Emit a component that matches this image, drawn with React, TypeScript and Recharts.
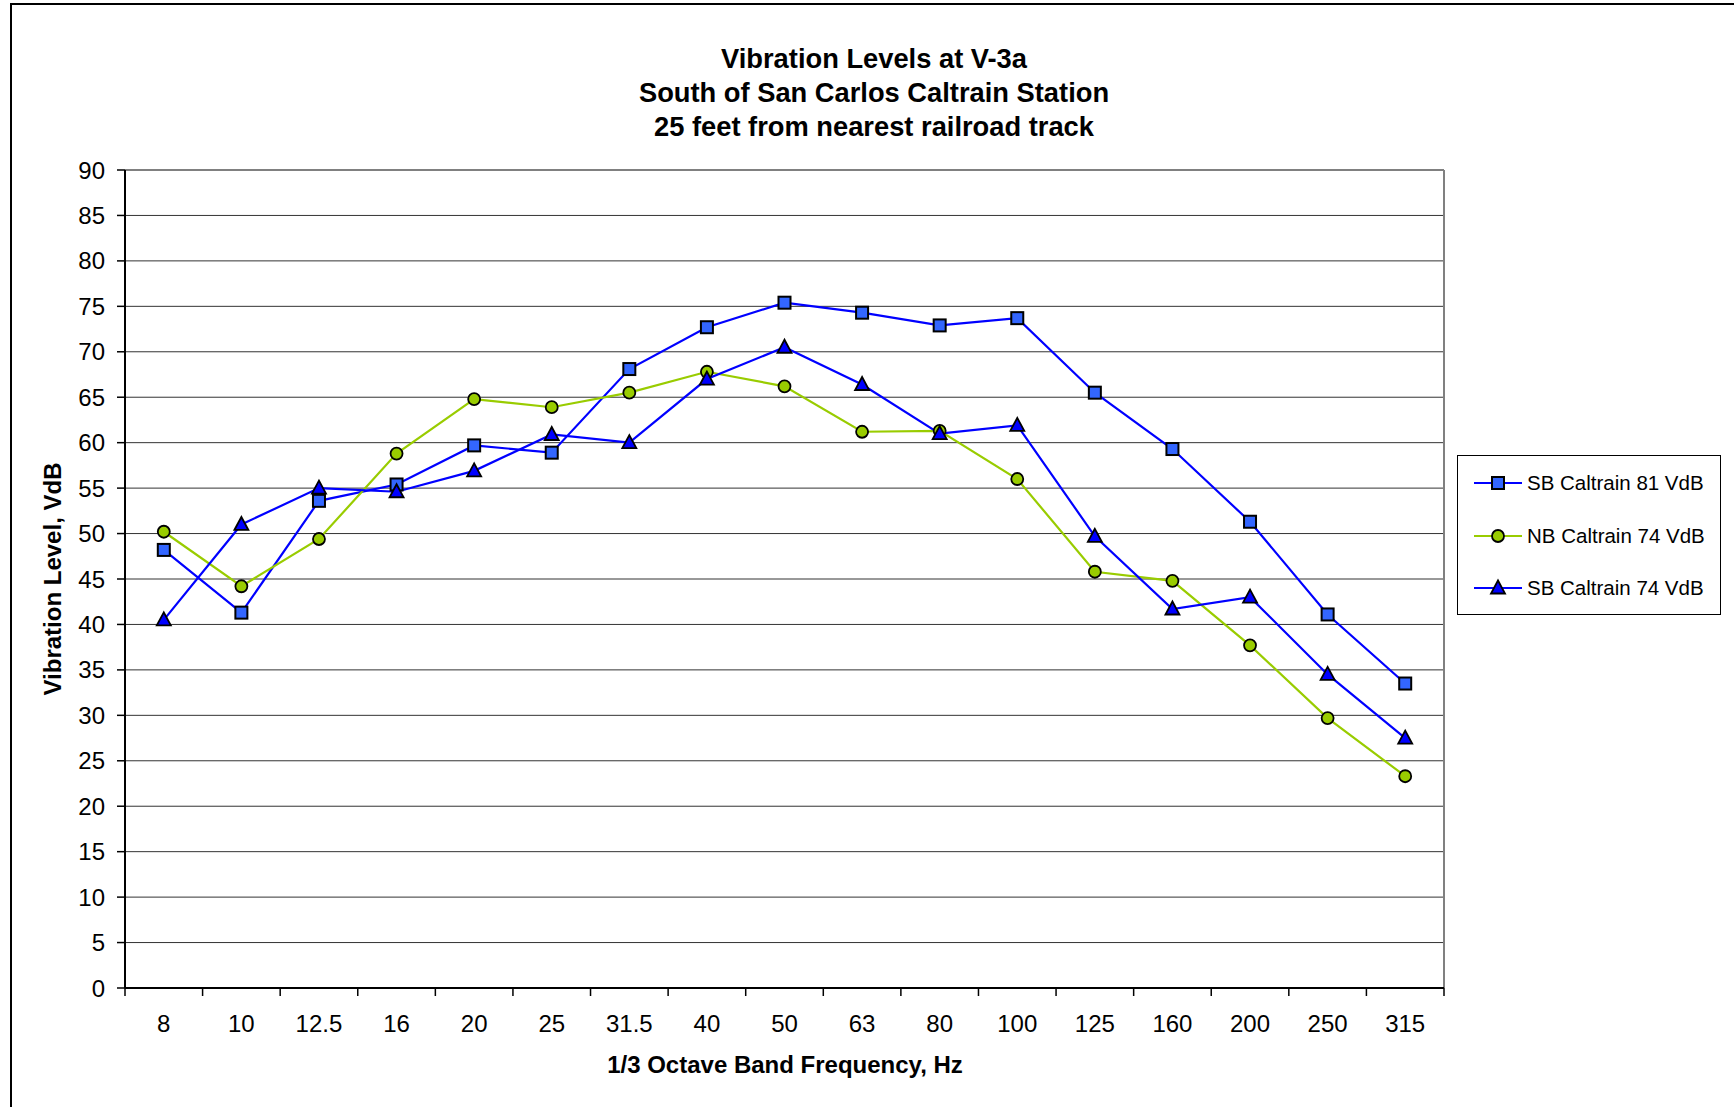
import React from "react";
import { LineChart, Line, XAxis, YAxis, CartesianGrid } from "recharts";

const freqs = ["8", "10", "12.5", "16", "20", "25", "31.5", "40", "50", "63", "80", "100", "125", "160", "200", "250", "315"];
const sb81 = [48.2, 41.3, 53.6, 55.4, 59.7, 58.9, 68.1, 72.7, 75.4, 74.3, 72.9, 73.7, 65.5, 59.3, 51.3, 41.1, 33.5];
const nb74 = [50.2, 44.2, 49.4, 58.8, 64.8, 63.9, 65.5, 67.8, 66.2, 61.2, 61.3, 56.0, 45.8, 44.8, 37.7, 29.7, 23.3];
const sb74 = [40.5, 51.0, 55.0, 54.6, 56.9, 60.9, 60.0, 67.0, 70.5, 66.4, 61.0, 61.9, 49.7, 41.7, 43.0, 34.5, 27.5];
const yTicks = [0, 5, 10, 15, 20, 25, 30, 35, 40, 45, 50, 55, 60, 65, 70, 75, 80, 85, 90];
const titleLines = ["Vibration Levels at V-3a", "South of San Carlos Caltrain Station", "25 feet from nearest railroad track"];

const data = freqs.map((f, i) => ({ freq: f, sb81: sb81[i], nb74: nb74[i], sb74: sb74[i] }));

const FONT = '"Liberation Sans", Arial, sans-serif';
const BLUE = "#0000FF";
const SQ_FILL = "#3366FF";
const GREEN = "#99CC00";

const Square = (props: any) => {
  const { cx, cy, index } = props;
  if (cx == null || cy == null) return <g key={`sq-${index}`} />;
  return <rect key={`sq-${index}`} x={cx - 6} y={cy - 6} width={12} height={12} fill={SQ_FILL} stroke="#000" strokeWidth={2} />;
};

const Triangle = (props: any) => {
  const { cx, cy, index } = props;
  if (cx == null || cy == null) return <g key={`tr-${index}`} />;
  return (
    <polygon
      key={`tr-${index}`}
      points={`${cx},${cy - 7.5} ${cx - 7},${cy + 5.5} ${cx + 7},${cy + 5.5}`}
      fill={BLUE}
      stroke="#000"
      strokeWidth={1.8}
    />
  );
};

// category labels plus Excel-style tick marks between the categories
const FreqTick = (props: any) => {
  const { x, y, payload, index, width, visibleTicksCount } = props;
  const band = width / visibleTicksCount;
  const left = x - band / 2;
  return (
    <g>
      <line x1={left} y1={y} x2={left} y2={y + 8} stroke="#000" strokeWidth={1.5} />
      {index === visibleTicksCount - 1 && (
        <line x1={x + band / 2} y1={y} x2={x + band / 2} y2={y + 8} stroke="#000" strokeWidth={1.5} />
      )}
      <text x={x} y={y} dy={44} textAnchor="middle" fontSize={24} fontFamily={FONT} fill="#000">
        {payload.value}
      </text>
    </g>
  );
};

const legendItems = [
  { name: "SB Caltrain 81 VdB", color: BLUE, marker: "square" },
  { name: "NB Caltrain 74 VdB", color: GREEN, marker: "circle" },
  { name: "SB Caltrain 74 VdB", color: BLUE, marker: "triangle" },
];

const LegendMarker = ({ marker }: { marker: string }) => {
  if (marker === "square") return <rect x={18} y={5} width={12} height={12} fill={SQ_FILL} stroke="#000" strokeWidth={2} />;
  if (marker === "circle") return <circle cx={24} cy={11} r={6} fill={GREEN} stroke="#000" strokeWidth={1.8} />;
  return <polygon points="24,3.5 17,16.5 31,16.5" fill={BLUE} stroke="#000" strokeWidth={1.8} />;
};

export default function App() {
  return (
    <div style={{ position: "fixed", left: 0, top: 0, width: 1734, height: 1107, overflow: "hidden", background: "#fff", fontFamily: FONT }}>
      {/* outer frame: only left and top edges are inside the picture */}
      <div style={{ position: "absolute", left: 10, top: 3, width: 1724, height: 1104, boxSizing: "border-box", borderLeft: "2px solid #000", borderTop: "2px solid #000" }} />

      <div style={{ position: "absolute", left: 374, top: 42, width: 1000, textAlign: "center", fontSize: 27.3, fontWeight: "bold", lineHeight: "34px" }}>
        {titleLines.map((t) => (
          <div key={t}>{t}</div>
        ))}
      </div>

      <div style={{ position: "absolute", left: 0, top: 0 }}>
        <LineChart width={1734} height={1107} data={data} margin={{ top: 170, right: 290, bottom: 59, left: 0 }}>
          <CartesianGrid vertical={false} stroke="#333" strokeWidth={1} />
          <CartesianGrid
            stroke="#808080"
            strokeWidth={2}
            horizontalCoordinatesGenerator={({ offset }: any) => [offset.top]}
            verticalCoordinatesGenerator={({ offset }: any) => [offset.left + offset.width]}
          />
          <XAxis
            dataKey="freq"
            scale="band"
            height={60}
            tickLine={false}
            tickSize={0}
            tickMargin={0}
            interval={0}
            axisLine={{ stroke: "#000", strokeWidth: 2 }}
            tick={<FreqTick />}
          />
          <YAxis
            width={125}
            domain={[0, 90]}
            ticks={yTicks}
            interval={0}
            tickSize={8}
            tickMargin={12}
            axisLine={{ stroke: "#000", strokeWidth: 2 }}
            tickLine={{ stroke: "#000", strokeWidth: 1.5 }}
            tick={{ fontSize: 24, fontFamily: FONT, fill: "#000" }}
          />
          <Line dataKey="sb81" stroke={BLUE} strokeWidth={2.2} dot={Square} activeDot={false} isAnimationActive={false} />
          <Line
            dataKey="nb74"
            stroke={GREEN}
            strokeWidth={2.2}
            dot={{ r: 6, fill: GREEN, stroke: "#000", strokeWidth: 1.8 }}
            activeDot={false}
            isAnimationActive={false}
          />
          <Line dataKey="sb74" stroke={BLUE} strokeWidth={2.2} dot={Triangle} activeDot={false} isAnimationActive={false} />
        </LineChart>
      </div>

      <div
        style={{
          position: "absolute",
          left: 53,
          top: 579,
          transform: "translate(-50%, -50%) rotate(-90deg)",
          whiteSpace: "nowrap",
          fontSize: 24,
          fontWeight: "bold",
        }}
      >
        Vibration Level, VdB
      </div>
      <div style={{ position: "absolute", left: 385, top: 1050, width: 800, textAlign: "center", fontSize: 24, fontWeight: "bold", lineHeight: "30px" }}>
        1/3 Octave Band Frequency, Hz
      </div>

      <div style={{ position: "absolute", left: 1457, top: 455, width: 262, height: 158, border: "1.5px solid #000", background: "#fff" }}>
        {legendItems.map((item, i) => (
          <div key={item.name} style={{ position: "absolute", left: 16, top: 16 + i * 52.5, height: 22, display: "flex", alignItems: "center" }}>
            <svg width={48} height={22}>
              <line x1={0} y1={11} x2={48} y2={11} stroke={item.color} strokeWidth={2.2} />
              <LegendMarker marker={item.marker} />
            </svg>
            <span style={{ marginLeft: 5, fontSize: 20.5, whiteSpace: "nowrap" }}>{item.name}</span>
          </div>
        ))}
      </div>
    </div>
  );
}
